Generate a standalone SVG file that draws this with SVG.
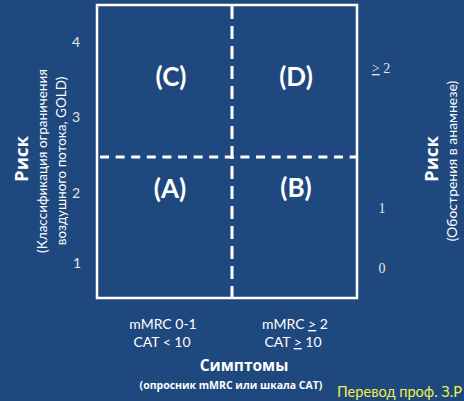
<svg xmlns="http://www.w3.org/2000/svg" width="464" height="401" viewBox="0 0 464 401">
  <style>
    .bg { fill: #1F487E; }
    .frame { fill: none; stroke: #FFFFFF; stroke-width: 2.5; }
    .dash { stroke: #FFFFFF; stroke-width: 3; fill: none; }
    .quad { font-family: Lato, "Open Sans", sans-serif; font-weight: bold; font-size: 26px; fill: #FFFFFF; text-anchor: middle; }
    .num { font-family: Lato, "Liberation Sans", sans-serif; font-size: 14px; fill: #E6E6E6; text-anchor: middle; }
    .numr { font-family: "Liberation Serif", serif; font-size: 14px; fill: #E6E6E6; text-anchor: middle; }
    .title { font-family: "Open Sans", "Liberation Sans", sans-serif; font-weight: bold; font-size: 18.5px; fill: #FFFFFF; text-anchor: middle; }
    .sub { font-family: Lato, "Liberation Sans", sans-serif; font-size: 13.5px; fill: #FFFFFF; text-anchor: middle; }
    .crit { font-family: Lato, "Liberation Sans", sans-serif; font-size: 14px; fill: #FFFFFF; text-anchor: middle; }
    .note { font-family: "Open Sans", "Liberation Sans", sans-serif; font-weight: bold; font-size: 10.5px; fill: #FFFFFF; text-anchor: middle; }
    .credit { font-family: Lato, "Liberation Sans", sans-serif; font-size: 15px; fill: #EEF050; }
  </style>

  <rect class="bg" x="0" y="0" width="464" height="401"/>

  <!-- quadrant grid -->
  <g id="grid">
    <rect class="frame" x="97" y="5" width="260" height="293"/>
  </g>
  <g id="connectors">
    <line class="dash" x1="232" y1="6" x2="232" y2="297" stroke-dasharray="13 7"/>
    <line class="dash" x1="100" y1="157" x2="356" y2="157" stroke-dasharray="9 6.6"/>
  </g>

  <!-- quadrants -->
  <g id="quad-c"><text class="quad" x="171" y="86">(C)</text></g>
  <g id="quad-d"><text class="quad" x="296" y="86">(D)</text></g>
  <g id="quad-a"><text class="quad" x="170" y="198">(A)</text></g>
  <g id="quad-b"><text class="quad" x="296" y="197">(B)</text></g>

  <!-- left axis: GOLD grade -->
  <g id="left-axis">
    <text class="num" x="76" y="47">4</text>
    <text class="num" x="76" y="122">3</text>
    <text class="num" x="76" y="198">2</text>
    <text class="num" x="77" y="268">1</text>
    <text class="title" transform="translate(28,159) rotate(-90)">Риск</text>
    <text class="sub" transform="translate(47,161) rotate(-90)">(Классификация ограничения</text>
    <text class="sub" transform="translate(66,161) rotate(-90)">воздушного потока, GOLD)</text>
  </g>

  <!-- right axis: exacerbation history -->
  <g id="right-axis">
    <text class="numr" x="381" y="73"><tspan text-decoration="underline">&gt;</tspan> 2</text>
    <text class="numr" x="382" y="213">1</text>
    <text class="numr" x="382" y="273">0</text>
    <text class="title" transform="translate(438,159) rotate(-90)">Риск</text>
    <text class="sub" transform="translate(457,161) rotate(-90)" style="font-size:14px">(Обострения в анамнезе)</text>
  </g>

  <!-- bottom axis: symptoms -->
  <g id="bottom-axis">
    <text class="crit" x="163" y="329">mMRC 0-1</text>
    <text class="crit" x="162" y="347">CAT &lt; 10</text>
    <text class="crit" x="295" y="329">mMRC <tspan text-decoration="underline">&gt;</tspan> 2</text>
    <text class="crit" x="293" y="347">CAT <tspan text-decoration="underline">&gt;</tspan> 10</text>
    <text class="title" x="244" y="371" style="font-size:15.5px">Симптомы</text>
    <text class="note" x="231" y="389">(опросник mMRC или шкала CAT)</text>
  </g>

  <g id="credit">
    <text class="credit" x="337" y="397" textLength="125" lengthAdjust="spacingAndGlyphs">Перевод проф. З.Р</text>
  </g>
</svg>
